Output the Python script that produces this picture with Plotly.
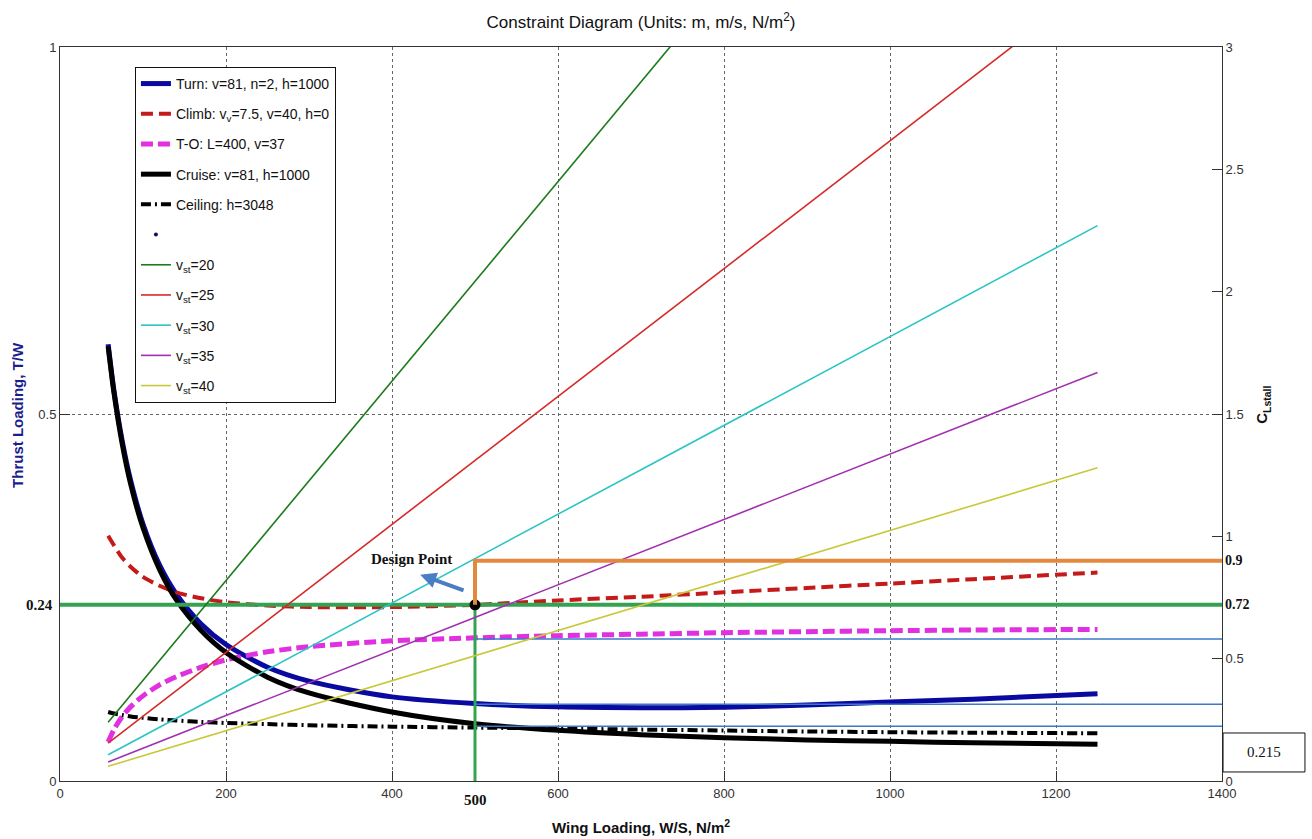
import plotly.graph_objects as go
from plotly.subplots import make_subplots

# ---------------- data ----------------
ws = [58, 65, 75, 85, 100, 120, 140, 170, 200, 250, 300, 400, 500, 600, 700, 800, 900, 1000, 1100, 1250]
turn_tw = [0.595, 0.532, 0.463, 0.410, 0.350, 0.294, 0.255, 0.214, 0.186, 0.155, 0.136, 0.1146, 0.1055,
           0.1010, 0.0998, 0.1005, 0.1035, 0.1075, 0.1115, 0.1190]
climb_tw = [0.334, 0.321, 0.304, 0.292, 0.278, 0.266, 0.257, 0.249, 0.2435, 0.239, 0.237, 0.237, 0.240,
            0.246, 0.251, 0.257, 0.263, 0.269, 0.275, 0.284]
to_tw = [0.053, 0.070, 0.088, 0.101, 0.116, 0.131, 0.142, 0.155, 0.165, 0.176, 0.183, 0.191, 0.195,
         0.198, 0.200, 0.202, 0.2035, 0.2048, 0.2057, 0.2065]
cruise_tw = [0.592, 0.529, 0.459, 0.405, 0.345, 0.288, 0.247, 0.205, 0.175, 0.1415, 0.120, 0.094, 0.078,
             0.069, 0.063, 0.059, 0.056, 0.054, 0.052, 0.050]
ceiling_tw = [0.094, 0.092, 0.090, 0.088, 0.086, 0.084, 0.0825, 0.0805, 0.079, 0.0775, 0.076, 0.0740, 0.0728,
              0.0715, 0.0700, 0.0688, 0.0675, 0.0665, 0.0658, 0.065]

ws_stall = [58, 1250]
stall_names = ["v<sub>st</sub>=20", "v<sub>st</sub>=25", "v<sub>st</sub>=30", "v<sub>st</sub>=35", "v<sub>st</sub>=40"]
stall_cl = [[0.24, 5.10], [0.155, 3.27], [0.107, 2.27], [0.078, 1.67], [0.060, 1.28]]
stall_colors = ["#1b7a1b", "#d42a2a", "#2cc4c4", "#a12fb0", "#c9c83a"]

design_ws = 500
design_tw = 0.24
design_cl_low = 0.72
design_cl = 0.9
ws_max = 1400
ref_lines_tw = [0.1935, 0.1045, 0.0745]
box_value = "0.215"

x_ticks = [0, 200, 400, 600, 800, 1000, 1200, 1400]
y_ticks = [0, 0.5, 1]
y2_ticks = [0, 0.5, 1, 1.5, 2, 2.5, 3]

# ---------------- figure ----------------
fig = make_subplots(specs=[[{"secondary_y": True}]])

def add(trace, sec=False):
    fig.add_trace(trace, secondary_y=sec)

add(go.Scatter(x=ws, y=turn_tw, mode="lines", name="Turn: v=81, n=2, h=1000",
               line=dict(color="#0a0aa0", width=5, shape="spline", smoothing=0.8), legendgroup="g1"))
add(go.Scatter(x=ws, y=climb_tw, mode="lines", name="Climb: v<sub>v</sub>=7.5, v=40, h=0",
               line=dict(color="#c41a1a", width=4, dash="12px,6px", shape="spline", smoothing=0.8),
               legendgroup="g2"))
add(go.Scatter(x=ws, y=to_tw, mode="lines", name="T-O: L=400, v=37",
               line=dict(color="#e030e0", width=5, dash="12px,5px", shape="spline", smoothing=0.8),
               legendgroup="g3"))
add(go.Scatter(x=ws, y=cruise_tw, mode="lines", name="Cruise: v=81, h=1000",
               line=dict(color="#000000", width=5, shape="spline", smoothing=0.8), legendgroup="g4"))
add(go.Scatter(x=ws, y=ceiling_tw, mode="lines", name="Ceiling: h=3048",
               line=dict(color="#000000", width=4, dash="10px,4px,2px,4px", shape="spline", smoothing=0.8),
               legendgroup="g5"))
add(go.Scatter(x=[design_ws], y=[design_tw], mode="markers", name=" ",
               marker=dict(color="#101060", size=4), legendgroup="g6"))
for i, (nm, cl, col) in enumerate(zip(stall_names, stall_cl, stall_colors)):
    add(go.Scatter(x=ws_stall, y=cl, mode="lines", name=nm,
                   line=dict(color=col, width=1.6), legendgroup="s%d" % i), sec=True)

# design-point guide lines
for tw in ref_lines_tw:
    add(go.Scatter(x=[design_ws, ws_max], y=[tw, tw], mode="lines", showlegend=False,
                   line=dict(color="#3a78c8", width=1.5), hoverinfo="skip"))
add(go.Scatter(x=[0, ws_max], y=[design_tw, design_tw], mode="lines", showlegend=False,
               line=dict(color="#33a352", width=4), hoverinfo="skip"))
add(go.Scatter(x=[design_ws, design_ws], y=[0, design_tw], mode="lines", showlegend=False,
               line=dict(color="#33a352", width=3), hoverinfo="skip"))
add(go.Scatter(x=[design_ws, design_ws, ws_max], y=[design_cl_low, design_cl, design_cl], mode="lines",
               showlegend=False, line=dict(color="#e3893e", width=4), hoverinfo="skip"), sec=True)
add(go.Scatter(x=[design_ws], y=[design_tw], mode="markers", showlegend=False,
               marker=dict(color="black", size=11), hoverinfo="skip"))

axis_font = dict(family="Liberation Sans, Arial", size=13, color="#333")
fig.update_xaxes(domain=[0, 1], range=[0, ws_max], tickvals=x_ticks, ticks="inside", ticklen=10,
                 tickcolor="#333", showline=True, linecolor="#333", linewidth=1, mirror=True,
                 showgrid=True, gridcolor="#666", griddash="dot", gridwidth=1, zeroline=False,
                 tickfont=axis_font)
fig.update_yaxes(range=[0, 1], tickvals=y_ticks, ticks="inside", ticklen=10, tickcolor="#333",
                 showline=True, linecolor="#333", linewidth=1, mirror=True,
                 showgrid=True, gridcolor="#666", griddash="dot", gridwidth=1, zeroline=False,
                 tickfont=axis_font, secondary_y=False)
fig.update_yaxes(range=[0, 3], tickvals=y2_ticks, ticks="inside", ticklen=10, tickcolor="#333",
                 showline=True, linecolor="#333", linewidth=1, showgrid=False, zeroline=False,
                 tickfont=axis_font, secondary_y=True)

serif_b = dict(family="Liberation Serif, Times New Roman", size=15, color="#111")
ann = [
    dict(text="<b>Thrust Loading, T/W</b>", xref="paper", yref="paper", x=-0.036, y=0.499, textangle=-90,
         showarrow=False, font=dict(family="Liberation Sans, Arial", size=15, color="#1c1c8c"),
         xanchor="center", yanchor="middle"),
    dict(text="<b>C<sub>Lstall</sub></b>", xref="paper", yref="paper", x=1.035, y=0.512, textangle=-90,
         showarrow=False, font=dict(family="Liberation Sans, Arial", size=15, color="#111"),
         xanchor="center", yanchor="middle"),
    dict(text="<b>Wing Loading, W/S, N/m<sup>2</sup></b>", xref="paper", yref="paper", x=0.5, y=-0.062,
         showarrow=False, font=dict(family="Liberation Sans, Arial", size=15, color="#111"),
         xanchor="center", yanchor="middle"),
    dict(text="<b>500</b>", xref="x", yref="paper", x=design_ws, y=-0.026, showarrow=False,
         font=serif_b, xanchor="center", yanchor="middle"),
    dict(text="<b>0.24</b>", xref="paper", yref="y", x=-0.004, y=design_tw, showarrow=False,
         font=serif_b, xanchor="right", yanchor="middle"),
    dict(text="<b>0.9</b>", xref="paper", yref="y2", x=1.001, y=design_cl, showarrow=False,
         font=dict(family="Liberation Serif, Times New Roman", size=14, color="#111"),
         xanchor="left", yanchor="middle"),
    dict(text="<b>0.72</b>", xref="paper", yref="y2", x=1.001, y=design_cl_low, showarrow=False,
         font=dict(family="Liberation Serif, Times New Roman", size=14, color="#111"),
         xanchor="left", yanchor="middle"),
    dict(text="<b>Design Point</b>", xref="x", yref="y", x=424, y=0.302, showarrow=False,
         font=serif_b, xanchor="center", yanchor="middle"),
    dict(text="", xref="x", yref="y", x=434, y=0.281, ax=488, ay=0.259, axref="x", ayref="y",
         showarrow=True, arrowhead=2, arrowsize=0.8, arrowwidth=4, arrowcolor="#4a7ec4"),
    dict(text=box_value, xref="paper", yref="paper", x=1.0362, y=0.039, showarrow=False,
         font=dict(family="Liberation Serif, Times New Roman", size=15, color="#111"),
         xanchor="center", yanchor="middle"),
]

fig.update_layout(
    width=1312, height=839,
    margin=dict(l=60, r=90, t=47, b=58),
    paper_bgcolor="white", plot_bgcolor="white",
    title=dict(text="Constraint Diagram (Units: m, m/s, N/m<sup>2</sup>)", x=0.4886, xanchor="center",
               y=1 - 22 / 839, yanchor="middle", yref="container",
               font=dict(family="Liberation Sans, Arial", size=17, color="#111")),
    legend=dict(x=0.0645, y=0.9728, xanchor="left", yanchor="top", bgcolor="white",
                bordercolor="#111", borderwidth=1, traceorder="grouped", tracegroupgap=9,
                font=dict(family="Liberation Sans Narrow, Arial Narrow, Liberation Sans, Arial", size=14,
                          color="#111")),
    annotations=ann,
    shapes=[dict(type="rect", xref="paper", yref="paper", x0=1.0009, x1=1.0714, y0=0.0123, y1=0.0654,
                 line=dict(color="#111", width=1), fillcolor="white")],
    showlegend=True,
)

fig.write_html("out.html")
